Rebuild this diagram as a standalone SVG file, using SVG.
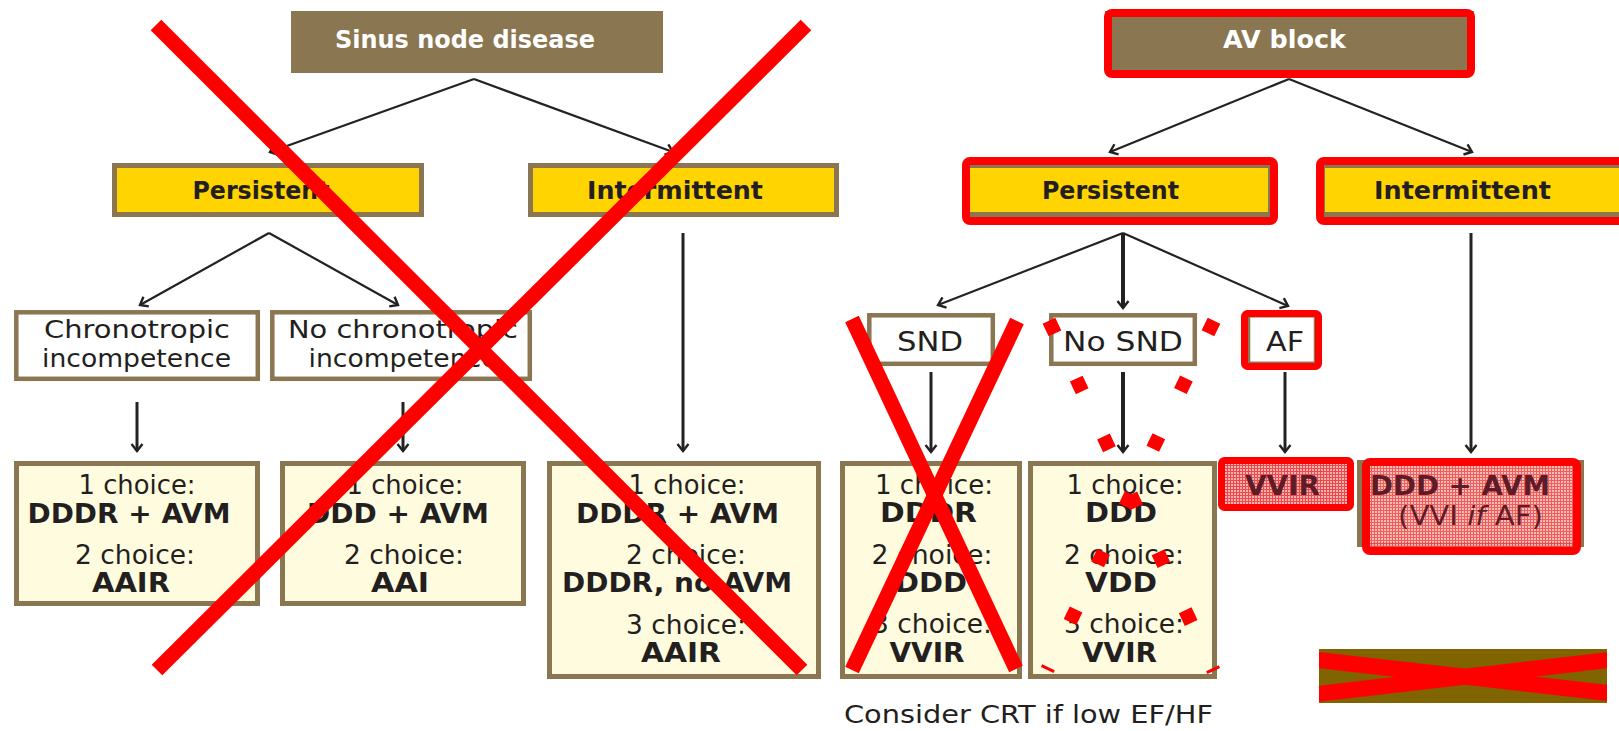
<svg xmlns="http://www.w3.org/2000/svg" width="1619" height="731" viewBox="0 0 1619 731">
<style>
.t{font-family:"DejaVu Sans","Liberation Sans",sans-serif;fill:#231f20;text-anchor:middle;font-size:26px}
.b{font-weight:bold}
.h{font-weight:bold;fill:#ffffff;font-size:24px}
.hb{font-weight:bold;font-size:24px}
.two{font-size:24px}
.brn{fill:#8a7650}
.yel{fill:#ffd400;stroke:#8a7650;stroke-width:5}
.wht{fill:#ffffff;stroke:#8a7650;stroke-width:4.5}
.lt{fill:#fffbdf;stroke:#8a7650;stroke-width:5}
.red{fill:none;stroke:#ff0000;stroke-width:8}
.pk{fill:#5e1c28}
.c{fill:none;stroke:#222;stroke-width:2.2;marker-end:url(#ah)}
.v{stroke-width:3}
.vt{stroke-width:4}
.x{stroke:#ff0000;stroke-width:15;fill:none}
</style>
<defs>
<marker id="ah" viewBox="0 0 16 16" refX="10" refY="8" markerWidth="16" markerHeight="16" orient="auto" markerUnits="userSpaceOnUse">
<path d="M3,2.5 L10,8 L3,13.5" fill="none" stroke="#222" stroke-width="2.4"/>
</marker>
<pattern id="hatch" width="3" height="3" patternUnits="userSpaceOnUse">
<rect width="3" height="3" fill="#f8b4b4"/>
<path d="M0,0.5H3M0.5,0V3" stroke="#f04848" stroke-width="1"/>
</pattern>
<clipPath id="brclip"><rect x="1319" y="649" width="288" height="54"/></clipPath>
</defs>
<rect width="1619" height="731" fill="#ffffff"/>

<g id="connectors">
<path class="c" d="M474,79 L270,152"/>
<path class="c" d="M474,79 L673,152"/>
<path class="c" d="M269,233 L140,305"/>
<path class="c" d="M269,233 L398,305"/>
<path class="c v" d="M137,402 V451"/>
<path class="c v" d="M403,402 V451"/>
<path class="c v" d="M683,233 V451"/>
<path class="c" d="M1289,79 L1110,152"/>
<path class="c" d="M1289,79 L1472,152"/>
<path class="c" d="M1123,233 L938,305"/>
<path class="c vt" d="M1123,233 V308"/>
<path class="c" d="M1123,233 L1288,306"/>
<path class="c v" d="M931,372 V452"/>
<path class="c vt" d="M1123,372 V452"/>
<path class="c v" d="M1285,372 V452"/>
<path class="c v" d="M1471,233 V452"/>
</g>

<g id="sinus-node-disease">
<rect class="brn" x="291" y="11" width="372" height="62"/>
<text class="t h" x="465" y="48" textLength="260" lengthAdjust="spacingAndGlyphs">Sinus node disease</text>
</g>
<g id="snd-persistent">
<rect class="yel" x="114.5" y="165.5" width="307" height="49"/>
<text class="t hb" x="261" y="199" textLength="137" lengthAdjust="spacingAndGlyphs">Persistent</text>
</g>
<g id="snd-intermittent">
<rect class="yel" x="530.5" y="165.5" width="306" height="49"/>
<text class="t hb" x="675" y="199" textLength="176" lengthAdjust="spacingAndGlyphs">Intermittent</text>
</g>
<g id="chronotropic">
<rect class="wht" x="16.3" y="312.3" width="241.5" height="66.5"/>
<text class="t two" x="137" y="338" textLength="186" lengthAdjust="spacingAndGlyphs">Chronotropic</text>
<text class="t two" x="136.5" y="367" textLength="189" lengthAdjust="spacingAndGlyphs">incompetence</text>
</g>
<g id="no-chronotropic">
<rect class="wht" x="272.3" y="312.3" width="257.5" height="66.5"/>
<text class="t two" x="403" y="338" textLength="230" lengthAdjust="spacingAndGlyphs">No chronotropic</text>
<text class="t two" x="403" y="367" textLength="189" lengthAdjust="spacingAndGlyphs">incompetence</text>
</g>
<g id="choice-chronotropic">
<rect class="lt" x="16.5" y="463.5" width="241" height="140"/>
<text class="t" x="137" y="494" textLength="117" lengthAdjust="spacingAndGlyphs">1 choice:</text>
<text class="t b" x="129" y="523" textLength="203" lengthAdjust="spacingAndGlyphs">DDDR + AVM</text>
<text class="t" x="135" y="564" textLength="120" lengthAdjust="spacingAndGlyphs">2 choice:</text>
<text class="t b" x="131" y="592" textLength="78" lengthAdjust="spacingAndGlyphs">AAIR</text>
</g>
<g id="choice-no-chronotropic">
<rect class="lt" x="282.5" y="463.5" width="241" height="140"/>
<text class="t" x="405" y="494" textLength="117" lengthAdjust="spacingAndGlyphs">1 choice:</text>
<text class="t b" x="398" y="523" textLength="182" lengthAdjust="spacingAndGlyphs">DDD + AVM</text>
<text class="t" x="404" y="564" textLength="120" lengthAdjust="spacingAndGlyphs">2 choice:</text>
<text class="t b" x="400" y="592" textLength="58" lengthAdjust="spacingAndGlyphs">AAI</text>
</g>
<g id="choice-snd-intermittent">
<rect class="lt" x="549.5" y="463.5" width="269" height="213"/>
<text class="t" x="687" y="494" textLength="117" lengthAdjust="spacingAndGlyphs">1 choice:</text>
<text class="t b" x="677.5" y="523" textLength="203" lengthAdjust="spacingAndGlyphs">DDDR + AVM</text>
<text class="t" x="686" y="564" textLength="120" lengthAdjust="spacingAndGlyphs">2 choice:</text>
<text class="t b" x="677" y="592" textLength="230" lengthAdjust="spacingAndGlyphs">DDDR, no AVM</text>
<text class="t" x="686" y="634" textLength="120" lengthAdjust="spacingAndGlyphs">3 choice:</text>
<text class="t b" x="681" y="662" textLength="80" lengthAdjust="spacingAndGlyphs">AAIR</text>
</g>

<g id="av-block">
<rect class="brn" x="1105" y="11" width="369" height="62"/>
<text class="t h" x="1284.5" y="48" textLength="123" lengthAdjust="spacingAndGlyphs">AV block</text>
<rect class="red" x="1108" y="13" width="363" height="61" rx="4"/>
</g>
<g id="avb-persistent">
<rect class="yel" x="966.5" y="165.5" width="304" height="49"/>
<text class="t hb" x="1110.5" y="199" textLength="137" lengthAdjust="spacingAndGlyphs">Persistent</text>
<rect class="red" x="966" y="161" width="308" height="60" rx="4"/>
</g>
<g id="avb-intermittent">
<rect class="yel" x="1322.5" y="165.5" width="310" height="49"/>
<text class="t hb" x="1462.5" y="199" textLength="177" lengthAdjust="spacingAndGlyphs">Intermittent</text>
<rect class="red" x="1320" y="161" width="310" height="60" rx="4"/>
</g>
<g id="snd">
<rect class="wht" x="869.3" y="315.3" width="123.5" height="48.5"/>
<text class="t" x="930" y="351" textLength="66" lengthAdjust="spacingAndGlyphs">SND</text>
</g>
<g id="no-snd">
<rect class="wht" x="1051.3" y="315.3" width="143.5" height="48.5"/>
<text class="t" x="1123" y="351" textLength="120" lengthAdjust="spacingAndGlyphs">No SND</text>
</g>
<g id="af">
<rect class="wht" x="1248" y="315.3" width="68" height="48.5"/>
<text class="t" x="1285" y="351" textLength="38" lengthAdjust="spacingAndGlyphs">AF</text>
<rect class="red" style="stroke-width:7" x="1244.5" y="313.5" width="74" height="53" rx="3"/>
</g>
<g id="choice-snd">
<rect class="lt" x="842.5" y="463.5" width="177" height="213"/>
<text class="t" x="934" y="494" textLength="118" lengthAdjust="spacingAndGlyphs">1 choice:</text>
<text class="t b" x="928.5" y="522" textLength="97" lengthAdjust="spacingAndGlyphs">DDDR</text>
<text class="t" x="932" y="564" textLength="121" lengthAdjust="spacingAndGlyphs">2 choice:</text>
<text class="t b" x="931" y="592" textLength="72" lengthAdjust="spacingAndGlyphs">DDD</text>
<text class="t" x="932" y="633" textLength="120" lengthAdjust="spacingAndGlyphs">3 choice:</text>
<text class="t b" x="927" y="662" textLength="75" lengthAdjust="spacingAndGlyphs">VVIR</text>
</g>
<g id="choice-no-snd">
<rect class="lt" x="1030.5" y="463.5" width="184" height="213"/>
<text class="t" x="1125" y="494" textLength="117" lengthAdjust="spacingAndGlyphs">1 choice:</text>
<text class="t b" x="1121" y="522" textLength="72" lengthAdjust="spacingAndGlyphs">DDD</text>
<text class="t" x="1124" y="564" textLength="120" lengthAdjust="spacingAndGlyphs">2 choice:</text>
<text class="t b" x="1121" y="592" textLength="72" lengthAdjust="spacingAndGlyphs">VDD</text>
<text class="t" x="1124" y="633" textLength="120" lengthAdjust="spacingAndGlyphs">3 choice:</text>
<text class="t b" x="1119.5" y="662" textLength="75" lengthAdjust="spacingAndGlyphs">VVIR</text>
</g>
<g id="choice-af">
<rect x="1221.5" y="460.5" width="129" height="47" rx="3" fill="url(#hatch)"/>
<text class="t b pk" style="font-size:27px" x="1282.5" y="495" textLength="75" lengthAdjust="spacingAndGlyphs">VVIR</text>
<rect class="red" style="stroke-width:7" x="1221.5" y="460.5" width="129" height="47" rx="3"/>
</g>
<g id="choice-avb-intermittent">
<rect class="lt" x="1359.5" y="462.5" width="222" height="82"/>
<rect x="1366" y="462" width="211" height="89" fill="url(#hatch)" opacity="0.88"/>
<text class="t b pk" style="font-size:27px" x="1460" y="495" textLength="180" lengthAdjust="spacingAndGlyphs">DDD + AVM</text>
<text class="t pk" x="1470.5" y="525" textLength="145" lengthAdjust="spacingAndGlyphs">(VVI <tspan font-style="italic">if</tspan> AF)</text>
<rect class="red" x="1366" y="462" width="211" height="89" rx="4"/>
</g>
<g id="crt-note">
<text class="t" style="font-size:25px" x="1028.5" y="723" textLength="369" lengthAdjust="spacingAndGlyphs">Consider CRT if low EF/HF</text>
</g>
<g id="bottom-right-box">
<rect x="1319" y="649" width="288" height="54" fill="#7f6400"/>
<g clip-path="url(#brclip)">
<path d="M1300,658 L1626,695" stroke="#ff0000" stroke-width="16"/>
<path d="M1300,696 L1626,658" stroke="#ff0000" stroke-width="16"/>
</g>
</g>

<g id="strike-marks">
<path class="x" d="M156,25 L802,670"/>
<path class="x" d="M806,25 L157,670"/>
<path class="x" d="M852,319 L1016,669"/>
<path class="x" d="M1017,321 L852,670"/>
<path class="x" style="stroke-width:14;stroke-dasharray:14 50" d="M1049,320.7 L1213.7,670.9"/>
<path class="x" style="stroke-width:14;stroke-dasharray:14 50" d="M1214,320.7 L1047.2,669.9"/>
</g>
</svg>
